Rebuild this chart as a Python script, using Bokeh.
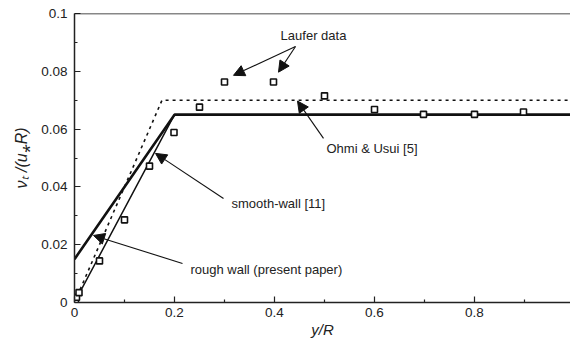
from bokeh.plotting import figure
from bokeh.models import (Range1d, FixedTicker, CustomJSTickFormatter, Arrow, NormalHead,
                          Label, Span)
from bokeh.embed import file_html
from bokeh.resources import INLINE

# ---- data ----
laufer_x = [0.002, 0.004, 0.009, 0.05, 0.1, 0.15, 0.199, 0.25, 0.3, 0.398, 0.5, 0.6, 0.698, 0.8, 0.898]
laufer_y = [0.0005, 0.0018, 0.0034, 0.0144, 0.0286, 0.0472, 0.0588, 0.0676, 0.0763, 0.0763, 0.0715, 0.0668, 0.0651, 0.0651, 0.0659]

rough_x = [0.0, 0.2, 1.0]
rough_y = [0.015, 0.065, 0.065]

smooth_x = [0.0, 0.2, 1.0]
smooth_y = [0.0, 0.065, 0.065]

ohmi_x = [0.0, 0.175, 1.0]
ohmi_y = [0.0, 0.07, 0.07]

x_ticks = [0, 0.2, 0.4, 0.6, 0.8]
y_ticks = [0, 0.02, 0.04, 0.06, 0.08, 0.1]

# annotation texts & anchor points (data units)
laufer_label = "Laufer data"
laufer_text_xy = (0.478, 0.0924)
laufer_arrows = [((0.442, 0.0886), (0.318, 0.0786)), ((0.442, 0.0886), (0.408, 0.0797))]

ohmi_label = "Ohmi & Usui [5]"
ohmi_text_xy = (0.504, 0.0533)
ohmi_arrow = ((0.498, 0.0568), (0.446, 0.0697))

smooth_label = "smooth-wall [11]"
smooth_text_xy = (0.314, 0.0343)
smooth_arrow = ((0.298, 0.036), (0.162, 0.0516))

rough_label = "rough wall (present paper)"
rough_text_xy = (0.232, 0.0114)
rough_arrow = ((0.216, 0.0135), (0.038, 0.0232))

FONT = "Liberation Sans"

p = figure(width=570, height=344, output_backend="svg", toolbar_location=None,
           x_range=Range1d(0, 0.992), y_range=Range1d(0, 0.1),
           min_border_left=74, min_border_top=13, min_border_right=0, min_border_bottom=42)
p.outline_line_color = None
p.grid.visible = False
p.background_fill_color = "white"
p.border_fill_color = "white"

# top frame line
p.add_layout(Span(location=0.1, dimension="width", line_color="#111", line_width=1.5))

for ax in (p.xaxis[0], p.yaxis[0]):
    ax.axis_line_color = "#222"
    ax.axis_line_width = 1.5
    ax.major_tick_in = 6
    ax.major_tick_out = 0
    ax.minor_tick_in = 3
    ax.minor_tick_out = 0
    ax.major_tick_line_color = "#222"
    ax.minor_tick_line_color = "#222"
    ax.major_tick_line_width = 1.2
    ax.minor_tick_line_width = 1.2
    ax.major_label_text_font = FONT
    ax.major_label_text_font_size = "13.5px"
    ax.major_label_text_color = "#222"
    ax.axis_label_text_font = FONT
    ax.axis_label_text_font_size = "15px"
    ax.axis_label_text_font_style = "italic"
    ax.axis_label_text_color = "#222"
    ax.formatter = CustomJSTickFormatter(code="return tick.toFixed(2).replace(/\\.?0+$/, '');")

p.xaxis.ticker = FixedTicker(ticks=x_ticks, minor_ticks=[0.1, 0.3, 0.5, 0.7, 0.9])
p.yaxis.ticker = FixedTicker(ticks=y_ticks, minor_ticks=[0.01, 0.03, 0.05, 0.07, 0.09])
p.xaxis.major_label_standoff = 5
p.yaxis.major_label_standoff = 7
p.xaxis.axis_label = "y/R"
p.xaxis.axis_label_standoff = 1
p.yaxis.axis_label = "\u03bd\u209c /(u\u204eR)"
p.yaxis.axis_label_standoff = 8
p.yaxis.axis_label_text_font_size = "16px"

# lines
p.line(ohmi_x, ohmi_y, line_color="#111", line_width=1.6, line_dash="3 4")
p.line(smooth_x, smooth_y, line_color="#111", line_width=1.5)
p.line(rough_x, rough_y, line_color="#111", line_width=2.6)

# Laufer squares
p.scatter(laufer_x, laufer_y, marker="square", size=6, fill_color="white",
          line_color="#111", line_width=1.6)

def add_arrow(tail, head):
    p.add_layout(Arrow(x_start=tail[0], y_start=tail[1], x_end=head[0], y_end=head[1],
                       line_color="#111", line_width=1.1,
                       end=NormalHead(size=11, fill_color="#111", line_color="#111", line_width=1)))

for t, h in laufer_arrows:
    add_arrow(t, h)
add_arrow(*ohmi_arrow)
add_arrow(*smooth_arrow)
add_arrow(*rough_arrow)

def add_text(xy, txt, align="left"):
    p.add_layout(Label(x=xy[0], y=xy[1], text=txt, text_font=FONT, text_font_size="13px",
                       text_color="#222", text_align=align, text_baseline="middle"))

add_text(laufer_text_xy, laufer_label, "center")
add_text(ohmi_text_xy, ohmi_label)
add_text(smooth_text_xy, smooth_label)
add_text(rough_text_xy, rough_label)

open("out.html", "w").write(file_html(p, INLINE))
